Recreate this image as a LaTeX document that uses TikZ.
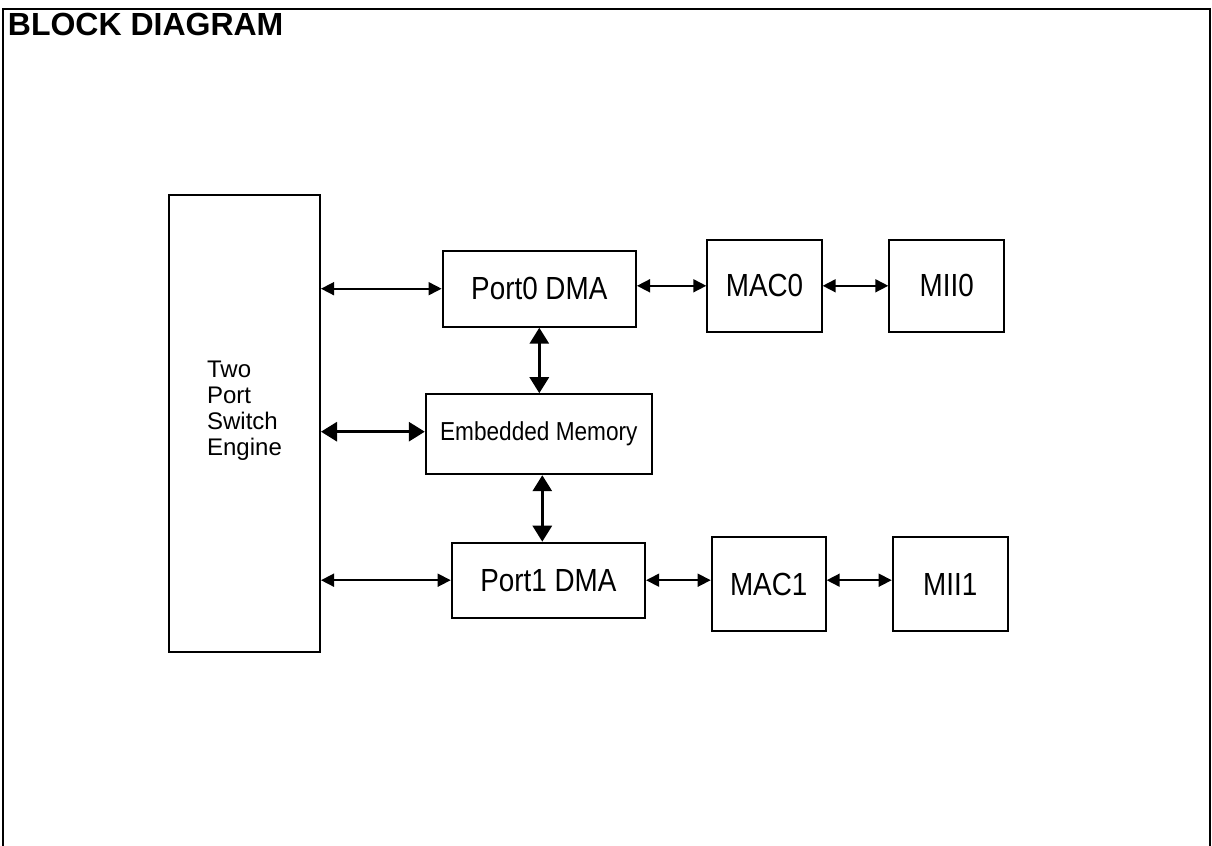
\documentclass[tikz,border=0pt]{standalone}
\usepackage{fontspec}
\setmainfont{Liberation Sans}
\newfontfamily\labelfont{Liberation Sans}[FakeStretch=0.87]
\usetikzlibrary{arrows.meta}

\begin{document}
\begin{tikzpicture}[x=0.5pt, y=-0.5pt,
		block/.style={draw, line width=1pt, inner sep=0pt, font=\labelfont\fontsize{16}{19}\selectfont},
		link/.style={{Triangle[length=6.5pt,width=6.5pt]}-{Triangle[length=6.5pt,width=6.5pt]}, line width=0.8pt},
		bus/.style={{Triangle[length=8pt,width=9.5pt]}-{Triangle[length=8pt,width=9.5pt]}, line width=1.5pt}]
			\useasboundingbox (0,0) rectangle (1212,846);
			\draw[line width=1pt] (2.5,846) -- (2.5,8.5) -- (1210,8.5) -- (1210,846);
			\node[anchor=base west, inner sep=0pt, font=\bfseries\fontsize{16}{19}\selectfont] (title) at (7.5,35) {BLOCK DIAGRAM};
			% switch engine
			\node[block, minimum width=75.5pt, minimum height=228.5pt] (eng) at (244.5,423.5) {};
			\node[align=left, font=\fontsize{12}{13}\selectfont] (englabel) at ([yshift=6.5pt]eng.center) {Two\\Port\\Switch\\Engine};
			% port 0
			\node[block, minimum width=96.7pt, minimum height=38pt] (dma0) at (539.3,288.7) {Port0 DMA};
			\node[block, minimum width=57.2pt, minimum height=45.9pt] (mac0) at (764.5,285.8) {MAC0};
			\node[block, minimum width=57.4pt, minimum height=45.9pt] (mii0) at (946.7,285.8) {MII0};
			% memory
			\node[block, minimum width=113pt, minimum height=40pt, font=\labelfont\fontsize{13}{15}\selectfont] (mem) at (538.8,434.2) {Embedded Memory};
			% port 1
			\node[block, minimum width=96.7pt, minimum height=37.5pt] (dma1) at (548.4,580.2) {Port1 DMA};
			\node[block, minimum width=57pt, minimum height=46.7pt] (mac1) at (768.7,584) {MAC1};
			\node[block, minimum width=57.5pt, minimum height=46.7pt] (mii1) at (950.2,584) {MII1};
			% connections
			\draw[link] (eng.east |- dma0.west) -- (dma0.west);
			\draw[link] (dma0.east |- mac0.west) -- (mac0.west);
			\draw[link] (mac0.east) -- (mii0.west);
			\draw[bus] (eng.east |- 0,431.7) -- (mem.west |- 0,431.7);
			\draw[bus] (dma0.south) -- (mem.north -| dma0.south);
			\draw[bus] ([xshift=1.75pt]mem.south) -- ([xshift=1.75pt]mem.south |- dma1.north);
			\draw[link] (eng.east |- dma1.west) -- (dma1.west);
			\draw[link] (dma1.east) -- (mac1.west |- dma1.east);
			\draw[link] (mac1.east |- dma1.east) -- (mii1.west |- dma1.east);
		\end{tikzpicture}
\end{document}
